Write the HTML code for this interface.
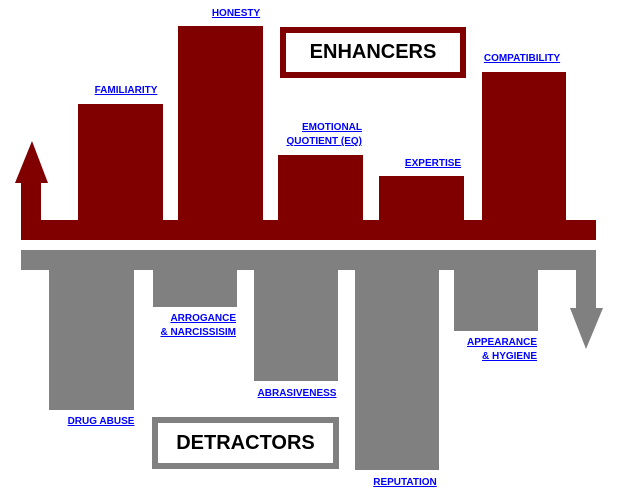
<!DOCTYPE html>
<html><head><meta charset="utf-8"><style>
body{margin:0;width:620px;height:500px;background:#fff;position:relative;overflow:hidden;font-family:"Liberation Sans",Arial,sans-serif}
.r{position:absolute;background:#800000}
.g{position:absolute;background:#808080}
.l{position:absolute;color:#0000ff;font-weight:bold;font-size:10px;line-height:14px;text-decoration:underline;white-space:nowrap}
.c{transform:translateX(-50%);text-align:center}
.rt{text-align:right}
</style></head><body>
<div class="r" style="left:21px;top:220px;width:575px;height:20px"></div>
<div class="r" style="left:21px;top:182px;width:20px;height:40px"></div>
<svg style="position:absolute;left:0;top:0" width="620" height="500">
<polygon points="32,141 15,183 48,183" fill="#800000"/>
<polygon points="586,349 570,308 603,308" fill="#808080"/>
</svg>
<div class="r" style="left:78px;top:104px;width:85px;height:118px"></div>
<div class="r" style="left:178px;top:26px;width:85px;height:196px"></div>
<div class="r" style="left:278px;top:155px;width:85px;height:67px"></div>
<div class="r" style="left:379px;top:176px;width:85px;height:46px"></div>
<div class="r" style="left:482px;top:72px;width:84px;height:150px"></div>
<div style="position:absolute;left:280px;top:27px;width:174px;height:39px;border:6px solid #800000;font-weight:bold;font-size:20px;line-height:39px;text-align:center">ENHANCERS</div>
<div class="l c" style="left:126px;top:84px">FAMILIARITY</div>
<div class="l c" style="left:236px;top:7px">HONESTY</div>
<div class="l rt" style="right:258px;top:121px">EMOTIONAL<br>QUOTIENT (EQ)</div>
<div class="l c" style="left:433px;top:157px">EXPERTISE</div>
<div class="l c" style="left:522px;top:52px">COMPATIBILITY</div>
<div class="g" style="left:21px;top:250px;width:575px;height:20px"></div>
<div class="g" style="left:576px;top:268px;width:20px;height:42px"></div>
<div class="g" style="left:49px;top:268px;width:85px;height:142px"></div>
<div class="g" style="left:153px;top:268px;width:84px;height:39px"></div>
<div class="g" style="left:254px;top:268px;width:84px;height:113px"></div>
<div class="g" style="left:355px;top:268px;width:84px;height:202px"></div>
<div class="g" style="left:454px;top:268px;width:84px;height:63px"></div>
<div style="position:absolute;left:152px;top:417px;width:175px;height:40px;border:6px solid #808080;font-weight:bold;font-size:20px;line-height:40px;text-align:center">DETRACTORS</div>
<div class="l c" style="left:101px;top:415px">DRUG ABUSE</div>
<div class="l rt" style="right:384px;top:312px">ARROGANCE<br>&amp; NARCISSISIM</div>
<div class="l c" style="left:297px;top:387px">ABRASIVENESS</div>
<div class="l c" style="left:405px;top:476px">REPUTATION</div>
<div class="l rt" style="right:83px;top:336px">APPEARANCE<br>&amp; HYGIENE</div>
</body></html>
